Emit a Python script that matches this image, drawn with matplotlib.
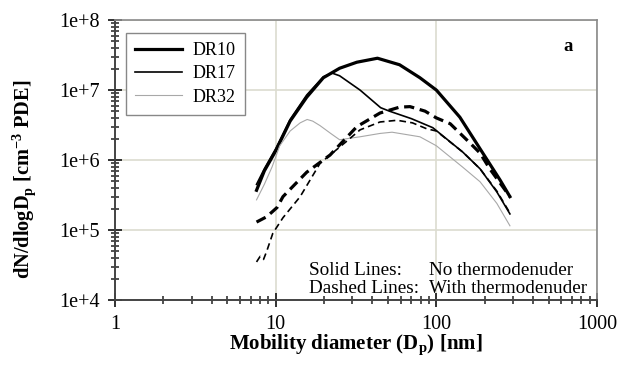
import numpy as np
import matplotlib
matplotlib.use("Agg")
import matplotlib.pyplot as plt
from matplotlib.ticker import LogLocator, FixedLocator, FuncFormatter, NullFormatter

plt.rcParams['font.family'] = ['Liberation Serif', 'DejaVu Serif']
plt.rcParams['mathtext.fontset'] = 'custom'
plt.rcParams['mathtext.rm'] = 'Liberation Serif'
plt.rcParams['mathtext.bf'] = 'Liberation Serif:bold'

# size distributions, no thermodenuder
dr10_x = [7.6, 8.5, 10, 12.3, 15.6, 19.8, 25, 32, 43, 59, 79, 100, 140, 187, 249, 287]
dr10_y = [3.7e5, 7.0e5, 1.35e6, 3.6e6, 7.9e6, 1.5e7, 2.05e7, 2.5e7, 2.85e7, 2.3e7, 1.5e7,
          1.0e7, 4.1e6, 1.45e6, 5.2e5, 3.0e5]

dr17_x = [7.6, 8.5, 10, 12.3, 15.6, 19.8, 22.4, 25, 33.5, 45, 51, 70, 95, 146, 187, 238, 287]
dr17_y = [4.5e5, 7.5e5, 1.45e6, 3.8e6, 8.5e6, 1.55e7, 1.75e7, 1.6e7, 1.0e7, 5.6e6, 5.0e6,
          3.9e6, 2.9e6, 1.3e6, 7.5e5, 3.5e5, 1.7e5]

dr32_x = [7.6, 8.5, 9.5, 10.6, 12.3, 14.2, 15.7, 17, 18.9, 22, 25, 29, 33.5, 44.6, 53,
          79, 100, 146, 187, 238, 287]
dr32_y = [2.7e5, 4.5e5, 8.0e5, 1.6e6, 2.6e6, 3.4e6, 3.8e6, 3.6e6, 3.1e6, 2.4e6, 1.95e6,
          2.05e6, 2.15e6, 2.4e6, 2.5e6, 2.15e6, 1.6e6, 7.9e5, 4.9e5, 2.4e5, 1.15e5]

# size distributions, with thermodenuder
dr10_td_x = [7.6, 8.8, 10.2, 11.1, 12.8, 15.6, 21.8, 32, 44.6, 59, 68.5, 85, 100, 122,
             162, 187, 215, 287]
dr10_td_y = [1.3e5, 1.55e5, 2.1e5, 3.0e5, 4.2e5, 6.7e5, 1.18e6, 3.0e6, 4.7e6, 5.7e6, 5.8e6,
             5.0e6, 4.0e6, 3.3e6, 1.75e6, 1.26e6, 7.5e5, 3.0e5]

dr17_td_x = [7.6, 8.0, 8.4, 8.8, 9.6, 11.1, 14.2, 18.9, 22, 28, 33.5, 44.6, 57, 71, 87,
             100, 146, 187, 238, 287]
dr17_td_y = [3.5e4, 4.2e4, 3.8e4, 5.0e4, 9.0e4, 1.5e5, 3.0e5, 9.0e5, 1.2e6, 1.9e6, 2.7e6,
             3.5e6, 3.7e6, 3.4e6, 2.8e6, 2.6e6, 1.3e6, 7.5e5, 3.6e5, 1.75e5]

fig = plt.figure(figsize=(6.19, 3.65), dpi=100)
ax = fig.add_axes([0.1858, 0.178, 0.7787, 0.767])

l10, = ax.plot(dr10_x, dr10_y, color='black', lw=2.3, label='DR10')
l17, = ax.plot(dr17_x, dr17_y, color='black', lw=1.2, label='DR17')
l32, = ax.plot(dr32_x, dr32_y, color='#a8a8a8', lw=0.8, label='DR32')
ax.plot(dr10_td_x, dr10_td_y, color='black', lw=2.3, dashes=(3.2, 1.8))
ax.plot(dr17_td_x, dr17_td_y, color='black', lw=1.2, dashes=(4, 2.5))

ax.set_xscale('log')
ax.set_yscale('log')
ax.set_xlim(1, 1000)
ax.set_ylim(1e4, 1e8)

ax.xaxis.set_major_locator(FixedLocator([1, 10, 100, 1000]))
ax.xaxis.set_major_formatter(FuncFormatter(lambda v, p: f'{v:g}'))
ax.yaxis.set_major_locator(FixedLocator([1e4, 1e5, 1e6, 1e7, 1e8]))
ax.yaxis.set_major_formatter(FuncFormatter(lambda v, p: f'1e+{int(round(np.log10(v)))}'))
for axis in (ax.xaxis, ax.yaxis):
    axis.set_minor_locator(LogLocator(base=10, subs=np.arange(2, 10), numticks=20))
    axis.set_minor_formatter(NullFormatter())

ax.tick_params(which='major', direction='inout', length=10, width=1.3, color='#222222',
               labelsize=14.5, zorder=5)
ax.tick_params(which='minor', direction='inout', length=6, width=1.1, color='#222222',
               zorder=5)
ax.tick_params(axis='y', which='major', pad=6)
ax.tick_params(axis='x', which='major', pad=6)

ax.grid(True, which='major', color='#dcdcd0', lw=1.2, zorder=0)
for side in ('left', 'bottom'):
    ax.spines[side].set_color('#444444')
    ax.spines[side].set_linewidth(1.4)
for side in ('top', 'right'):
    ax.spines[side].set_color('#8a8a8a')
    ax.spines[side].set_linewidth(1.2)

ax.set_xlabel(r'Mobility diameter (D$_\mathbf{p}$) [nm]', fontsize=15, fontweight='bold')
ax.set_ylabel(r'dN/dlogD$_\mathbf{p}$ [cm$^\mathbf{-3}$ PDE]', fontsize=14.7, fontweight='bold')
ax.xaxis.set_label_coords(0.5, -0.118)
ax.yaxis.set_label_coords(-0.16, 0.432)

leg = ax.legend(handles=[l10, l17, l32], loc='upper left', bbox_to_anchor=(0.0228, 0.954),
                borderaxespad=0, fontsize=13, handlelength=2.6, handletextpad=0.6,
                labelspacing=0.35, fancybox=False, framealpha=1, borderpad=0.5)
leg.get_frame().set_edgecolor('#888888')
leg.get_frame().set_linewidth(1.0)

ax.text(0.94, 0.904, 'a', transform=ax.transAxes, fontsize=13.5, fontweight='bold',
        ha='center', va='center')

ax.text(0.402, 0.104, 'Solid Lines:', transform=ax.transAxes, fontsize=13.8, va='center')
ax.text(0.651, 0.104, 'No thermodenuder', transform=ax.transAxes, fontsize=13.8, va='center')
ax.text(0.402, 0.04, 'Dashed Lines:', transform=ax.transAxes, fontsize=13.8, va='center')
ax.text(0.651, 0.04, 'With thermodenuder', transform=ax.transAxes, fontsize=13.8, va='center')

fig.savefig('out.png', dpi=100)
